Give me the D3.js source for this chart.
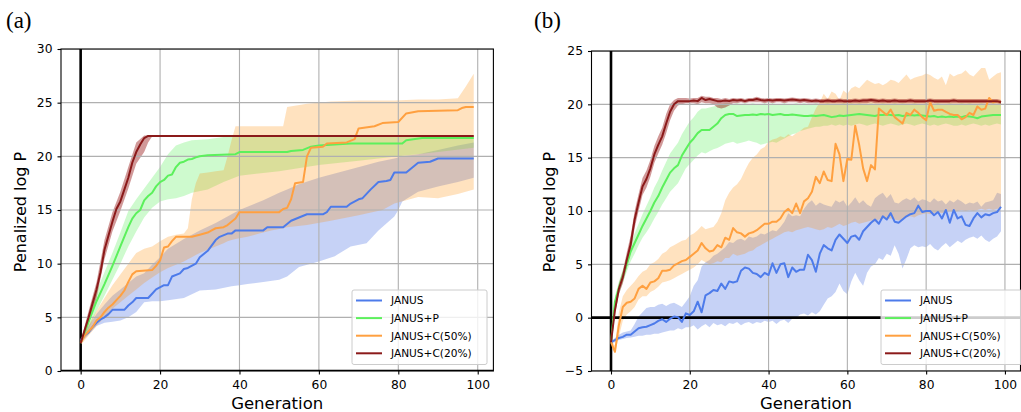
<!DOCTYPE html>
<html>
<head>
<meta charset="utf-8">
<script src="https://cdn.jsdelivr.net/npm/d3@7"></script>
<style>
    body { margin: 0; background: #fff; }
    svg { display: block; }
    text { font-family: "DejaVu Sans", sans-serif; }
</style>
</head>
<body>
<div id="chart"></div>
<script>
// ---- data: panel (a), step-like best-so-far curves, [generation, value] ----
const aJanus = [[0,2.9],[1,3.3],[2,3.6],[3,4.1],[4,4.5],[5,4.8],[6,5.0],[7,5.3],[8,5.7],[11,5.7],[12,6.1],[13,6.4],[14,6.8],[17,6.8],[18,7.2],[19,7.6],[21,8.0],[22,8.0],[23,8.8],[25,9.1],[26,9.5],[27,9.6],[29,10.0],[30,10.6],[32,11.2],[34,12.2],[35,12.5],[37,12.8],[38,12.8],[39,13.1],[46,13.1],[47,13.4],[51,13.4],[53,14.0],[55,14.3],[57,14.6],[61,14.6],[62,14.8],[63,15.3],[67,15.3],[68,15.6],[70,16.0],[71,16.1],[73,16.9],[75,17.6],[77,17.7],[78,17.8],[79,18.5],[82,18.5],[83,18.8],[85,19.4],[88,19.5],[90,19.8],[99,19.8]];
const aP = [[0,2.6],[2,4.6],[4,6.5],[6,8.1],[8,9.8],[10,11.6],[12,13.4],[13,14.2],[14,14.7],[15,15.0],[16,15.9],[17,16.3],[18,16.6],[19,17.2],[20,17.6],[21,17.8],[22,18.2],[23,18.3],[24,19.0],[25,19.4],[26,19.5],[27,19.7],[28,19.75],[29,19.9],[30,20.0],[32,20.1],[39,20.2],[40,20.4],[52,20.4],[53,20.5],[56,20.6],[58,20.9],[60,21.0],[68,21.2],[81,21.2],[82,21.5],[86,21.7],[99,21.7]];
const aC50 = [[0,2.6],[1,3.3],[2,3.7],[3,4.1],[4,4.7],[5,5.0],[6,5.5],[7,5.9],[8,6.2],[9,6.6],[10,7.0],[11,7.5],[12,8.3],[13,9.0],[14,9.3],[18,9.4],[19,9.8],[20,10.3],[21,11.5],[22,11.6],[23,12.1],[24,12.5],[28,12.5],[30,12.7],[32,12.9],[33,13.1],[34,13.3],[36,13.4],[37,13.6],[38,13.9],[39,14.2],[40,14.8],[50,14.8],[51,15.1],[52,15.2],[53,16.0],[54,17.5],[56,17.6],[57,20.0],[58,20.8],[61,20.9],[62,21.2],[67,21.3],[69,21.6],[70,22.6],[74,22.8],[76,23.1],[80,23.2],[82,24.0],[85,24.2],[95,24.3],[96,24.5],[97,24.6],[99,24.6]];
const aC20 = [[0,2.6],[1,3.8],[2,5.0],[3,6.3],[4,7.6],[5,9.2],[6,11.3],[7,12.6],[8,13.9],[9,15.1],[10,15.8],[11,16.9],[12,18.0],[13,19.4],[14,20.4],[15,21.1],[16,21.7],[17,21.9],[99,21.9]];

// bands: [generation, lower, upper]
const aJanusBand = [[0,2.6,3.1],[2,3.4,4.2],[4,4.2,5.3],[6,4.5,6.2],[8,4.6,7.0],[10,4.7,7.6],[12,5.0,8.2],[14,5.5,8.8],[16,6.4,9.1],[18,6.5,9.9],[20,6.5,10.6],[22,6.6,11.4],[26,6.8,12.3],[30,7.5,13.1],[34,7.6,13.8],[38,7.9,14.6],[40,8.0,15.0],[42,8.1,15.3],[46,8.3,15.9],[50,8.5,16.6],[52,8.8,16.9],[55,9.7,17.4],[60,10.2,18.0],[64,10.7,18.4],[68,11.6,18.8],[72,11.9,19.2],[75,13.1,19.5],[79,14.4,19.8],[80,15.0,19.9],[81,15.8,20.0],[85,16.7,20.2],[90,17.2,20.6],[95,17.6,21.0],[99,18.0,21.3]];
const aPBand = [[0,2.5,2.8],[2,3.9,5.3],[4,5.6,7.4],[6,7.0,9.2],[8,8.5,11.0],[10,10.0,12.9],[12,11.6,14.9],[14,13.0,16.0],[16,14.3,17.0],[18,15.2,18.0],[20,15.8,19.0],[22,16.0,20.2],[24,16.1,21.0],[26,16.3,21.3],[28,16.6,21.5],[32,16.9,21.6],[36,17.6,21.8],[40,18.2,21.8],[50,18.6,21.8],[60,19.2,21.8],[70,19.6,21.8],[80,20.0,21.9],[90,20.4,21.9],[99,20.8,21.9]];
const aC50Band = [[0,2.4,2.8],[2,3.3,4.3],[4,4.2,5.6],[6,5.0,6.8],[8,5.8,8.0],[10,6.4,9.0],[12,7.0,10.0],[14,7.6,11.0],[16,8.2,11.4],[18,8.7,11.6],[20,9.2,12.1],[22,9.6,12.5],[24,9.9,12.7],[26,10.2,12.8],[27,10.4,13.3],[28,10.6,16.0],[29,10.8,17.5],[30,11.0,18.4],[32,11.3,18.5],[34,11.6,18.6],[36,11.9,18.7],[37,12.1,20.0],[38,12.2,21.5],[39,12.3,22.8],[42,12.5,22.8],[45,12.8,22.8],[48,13.1,22.8],[51,13.3,22.8],[52,13.4,24.6],[57,13.6,24.9],[63,14.0,25.1],[70,14.5,25.2],[76,15.0,25.2],[79,15.6,25.2],[85,16.2,25.3],[90,16.1,25.3],[95,16.5,25.4],[97,16.7,26.5],[99,16.9,27.7]];
const aC20Band = [[0,2.4,2.8],[2,4.4,5.6],[4,6.8,8.3],[6,10.4,12.2],[8,13.0,14.8],[10,14.9,16.7],[12,17.0,19.0],[14,19.3,21.3],[16,20.4,21.95],[17,21.3,21.95],[18,21.85,21.95],[99,21.85,21.95]];

// ---- data: panel (b), one value per generation 0..99 ----
const bJanus = [-2.3,-2.1,-1.9,-1.8,-1.6,-1.6,-1.3,-1.0,-0.9,-0.85,
  -0.7,-0.55,-0.3,-0.15,-0.4,-0.1,0.1,0.05,-0.4,0.4,
  0.25,0.6,1.5,0.5,2.1,2.3,2.6,2.5,3.2,2.7,
  3.4,3.3,3.4,4.4,4.7,4.6,4.2,4.1,3.8,4.2,
  4.0,5.1,4.2,5.0,5.1,3.8,4.7,4.3,4.5,4.5,
  5.9,5.4,4.3,6.0,6.8,6.5,6.3,7.3,7.8,7.4,
  7.0,7.6,7.7,7.3,8.1,8.5,8.9,9.2,8.8,9.5,
  9.2,9.8,9.0,8.9,9.2,9.5,9.7,9.8,10.5,9.9,
  10.0,10.0,9.6,9.9,9.3,10.1,8.9,10.1,9.3,9.5,
  8.7,8.6,9.3,9.8,9.4,9.7,9.6,9.8,9.9,10.4];
const bJanusLo = [-2.4,-2.3,-2.1,-2.0,-1.9,-1.85,-1.8,-1.7,-1.7,-1.6,
  -1.6,-1.5,-1.5,-1.4,-1.3,-1.2,-1.2,-1.0,-1.1,-0.9,
  -0.9,-0.7,-1.1,-0.8,-0.6,-0.9,-0.5,-0.7,-0.6,-0.8,
  -0.5,-0.6,-0.4,-0.7,-0.5,-0.4,-0.6,-0.4,-0.5,-0.3,
  -0.4,-0.3,-0.6,-0.3,-0.2,-0.5,-0.1,0.0,0.3,0.4,
  0.2,0.5,0.3,0.6,1.2,1.8,2.0,2.4,3.2,2.5,
  2.2,3.4,4.2,3.5,3.0,4.2,4.8,5.0,5.6,5.4,
  6.0,5.8,6.8,6.0,4.6,5.5,6.5,6.8,6.6,6.7,
  6.6,6.9,6.5,6.3,6.7,7.0,6.6,6.9,7.2,7.0,
  7.3,7.5,7.6,7.4,7.7,7.3,7.1,7.4,7.6,8.1];
const bJanusHi = [-2.2,-1.9,-1.6,-1.4,-1.3,-1.2,-0.6,0.1,0.5,0.9,
  1.0,1.0,1.2,1.3,1.1,1.3,1.4,1.2,1.0,1.5,
  2.0,3.0,3.5,4.8,5.2,5.4,5.8,6.0,6.3,6.6,
  7.1,7.0,7.3,7.4,7.2,7.6,7.5,7.6,7.9,7.8,
  8.0,8.2,8.1,8.5,9.0,9.8,9.5,9.6,9.5,10.2,
  10.7,11.0,10.5,10.8,10.6,10.5,10.4,11.0,10.8,11.0,
  10.4,10.8,11.3,10.7,11.0,10.6,10.4,11.2,11.5,11.7,
  11.2,11.6,10.8,10.7,11.0,11.2,11.0,11.3,10.9,11.1,
  11.0,10.8,11.2,10.9,11.0,10.6,11.0,10.8,11.1,10.9,
  10.6,10.8,10.7,10.9,10.4,10.8,10.9,11.0,11.7,11.6];

const bP = [-2.3,1.5,2.8,3.9,5.0,6.2,7.0,7.8,8.6,9.3,
  10.0,10.8,11.4,12.2,12.9,13.6,14.0,14.3,15.2,15.8,
  16.4,16.8,17.3,17.6,17.6,17.6,17.9,18.2,18.7,19.0,
  19.1,19.1,18.9,18.95,19.0,19.0,19.05,19.0,19.1,19.05,
  19.1,19.0,19.05,19.1,19.0,19.0,19.05,19.0,18.95,18.9,
  18.9,18.95,18.9,18.95,19.0,18.9,18.8,18.85,18.95,18.9,
  18.95,19.0,19.05,19.1,19.05,19.0,18.95,18.9,19.0,19.0,
  19.05,19.0,18.95,19.0,18.9,18.95,19.0,18.95,19.0,18.95,
  18.9,18.85,18.9,18.8,18.85,18.8,18.85,18.8,18.85,18.8,
  18.9,18.85,18.8,18.7,18.85,18.9,18.95,19.0,19.0,19.0];
const bPLo = [-2.4,1.0,2.2,3.3,4.3,5.3,6.0,6.8,7.5,8.0,
  8.6,9.3,9.9,10.6,11.2,11.8,12.2,12.6,13.3,14.0,
  14.4,14.8,15.2,15.5,15.4,15.6,15.8,15.9,16.1,16.3,
  16.4,16.5,16.3,16.4,16.5,16.6,16.5,16.4,16.2,16.3,
  16.4,16.5,16.4,16.6,16.8,17.0,17.2,17.3,17.5,17.6,
  17.7,17.8,17.9,17.9,18.0,18.0,18.1,18.0,18.1,18.0,
  18.1,18.0,18.1,18.2,18.1,18.0,18.1,18.2,18.1,18.0,
  18.1,18.2,18.1,18.0,18.1,18.2,18.1,18.0,18.1,18.2,
  18.1,18.0,18.1,18.0,18.1,18.2,18.1,18.0,18.0,18.1,
  18.0,18.1,18.2,18.1,18.0,18.1,18.0,18.1,18.2,18.1];
const bPHi = [-2.2,2.0,3.4,4.5,5.7,7.0,7.9,8.8,9.7,10.5,
  11.3,12.2,12.9,13.8,14.6,15.4,15.9,16.4,17.2,17.8,
  18.4,18.8,19.3,19.6,19.6,19.7,19.8,19.9,20.0,20.1,
  20.1,20.0,20.1,20.0,20.1,20.0,20.1,20.0,20.0,20.1,
  20.0,20.1,20.0,20.0,20.1,20.0,20.0,20.1,20.0,20.1,
  20.0,20.0,20.1,20.0,20.0,20.1,20.0,20.0,20.0,20.1,
  20.0,20.1,20.0,20.1,20.0,20.0,20.1,20.0,20.0,20.1,
  20.0,20.0,20.1,20.0,20.1,20.0,20.0,20.1,20.0,20.0,
  20.1,20.0,20.0,20.1,20.0,20.0,20.1,20.0,20.0,20.1,
  20.0,20.1,20.0,20.0,20.1,20.0,20.0,20.1,20.0,20.1];

const bC50 = [-2.3,-3.2,-0.7,1.0,1.4,1.5,1.8,2.7,3.0,2.7,
  3.3,3.4,3.7,4.4,4.4,4.5,4.9,5.1,5.3,5.4,
  5.7,6.0,6.3,7.0,6.5,6.2,6.3,6.8,6.6,7.5,
  7.3,8.4,8.0,7.9,7.6,7.9,8.0,8.2,8.5,8.8,
  8.8,9.0,9.0,9.3,9.9,10.2,9.8,10.7,9.8,10.9,
  11.2,11.8,13.2,12.6,13.7,12.9,12.8,16.3,15.3,12.8,
  14.9,14.8,18.0,16.2,14.0,12.8,14.3,13.9,19.6,19.3,
  19.0,19.5,18.8,18.5,18.2,19.2,19.0,19.5,19.2,18.8,
  18.5,20.2,19.4,19.5,19.5,19.3,19.1,19.0,19.0,18.6,
  18.8,19.2,19.0,19.8,19.5,19.6,20.6,20.2,20.3,20.2];
const bC50Lo = [-2.5,-3.3,-1.8,-0.3,0.3,0.6,1.0,1.7,2.0,2.0,
  2.4,2.6,2.9,3.3,3.4,3.5,3.7,3.9,4.1,4.3,
  4.5,4.7,5.0,5.4,5.2,5.0,5.1,5.3,5.2,5.6,
  5.6,6.0,5.8,5.9,6.0,6.2,6.3,6.6,6.8,7.0,
  7.2,7.4,7.6,7.8,8.0,8.1,8.0,8.2,8.3,8.4,
  8.5,8.4,8.3,8.2,8.3,8.5,8.4,8.6,8.8,8.6,
  8.7,8.9,9.0,8.8,8.9,9.0,9.1,9.0,9.2,9.3,
  9.2,9.3,9.2,9.1,9.2,9.4,9.5,9.4,9.6,9.7,
  9.8,9.7,9.8,9.9,9.8,9.9,10.0,9.9,10.0,10.1,
  10.0,10.1,10.0,10.1,10.2,10.1,10.2,10.1,10.2,10.2];
const bC50Hi = [-2.1,-2.6,0.5,2.0,2.6,3.0,3.4,3.9,4.3,4.5,
  5.0,5.2,5.5,6.0,6.2,6.6,6.8,7.0,7.2,7.3,
  7.7,7.9,8.2,8.6,8.3,8.4,8.5,9.0,9.8,11.0,
  11.7,12.2,12.5,13.0,13.8,14.5,15.0,15.3,15.8,16.0,
  16.5,16.7,16.8,17.0,16.9,17.2,17.0,17.3,17.5,17.8,
  17.9,18.8,19.6,20.2,21.0,20.5,21.2,21.0,20.4,21.3,
  21.0,21.5,21.7,21.5,21.9,22.3,22.1,21.9,22.0,21.8,
  22.0,22.3,22.2,22.0,22.4,22.8,22.3,22.5,22.6,22.7,
  22.9,22.75,22.5,22.3,22.6,21.8,22.9,22.6,22.8,22.9,
  23.2,22.8,22.6,23.0,23.4,23.4,22.3,22.6,22.9,23.0];

const bC20 = [-2.3,0.7,2.7,3.8,5.4,6.9,9.2,10.8,12.3,13.0,
  14.0,15.3,16.2,17.0,18.2,19.3,20.0,20.3,20.3,20.3,
  20.3,20.35,20.3,20.6,20.4,20.5,20.4,20.3,20.3,20.35,
  20.3,20.4,20.35,20.4,20.3,20.4,20.4,20.5,20.4,20.35,
  20.4,20.35,20.4,20.4,20.35,20.4,20.45,20.4,20.35,20.4,
  20.35,20.3,20.35,20.3,20.3,20.35,20.3,20.3,20.35,20.3,
  20.3,20.3,20.35,20.3,20.35,20.35,20.4,20.35,20.3,20.35,
  20.3,20.3,20.35,20.3,20.3,20.3,20.35,20.3,20.3,20.3,
  20.3,20.35,20.3,20.3,20.3,20.3,20.3,20.35,20.3,20.3,
  20.3,20.3,20.3,20.3,20.3,20.3,20.3,20.3,20.3,20.2];
const bC20Lo = [-2.5,0.3,2.2,3.2,4.7,6.1,8.4,10.0,11.5,12.2,
  13.2,14.5,15.4,16.2,17.3,18.5,19.4,19.9,20.0,20.1,
  20.1,20.1,20.0,20.2,20.1,20.1,20.0,19.7,19.6,19.7,
  19.9,20.1,20.1,20.2,20.1,20.2,20.2,20.2,20.2,20.1,
  20.2,20.1,20.2,20.2,20.1,20.2,20.2,20.2,20.1,20.2,
  20.1,20.1,20.1,20.1,20.1,20.1,20.1,20.1,20.1,20.1,
  20.1,20.1,20.1,20.1,20.1,20.1,20.2,20.1,20.1,20.1,
  20.1,20.1,20.1,20.1,20.1,20.1,20.1,20.1,20.1,20.1,
  20.1,20.1,20.1,20.1,20.1,20.1,20.1,20.1,20.1,20.1,
  20.1,20.1,20.1,20.1,20.1,20.1,20.1,20.1,20.1,20.0];
const bC20Hi = [-2.1,1.1,3.2,4.4,6.1,7.7,10.0,11.6,13.1,13.8,
  14.8,16.1,17.0,17.8,19.1,20.0,20.4,20.6,20.6,20.6,
  20.55,20.6,20.6,20.8,20.7,20.7,20.6,20.6,20.5,20.6,
  20.5,20.6,20.55,20.6,20.5,20.6,20.6,20.7,20.6,20.55,
  20.6,20.55,20.6,20.6,20.55,20.6,20.65,20.6,20.55,20.6,
  20.55,20.5,20.55,20.5,20.5,20.55,20.5,20.5,20.55,20.5,
  20.5,20.5,20.55,20.5,20.55,20.55,20.6,20.55,20.5,20.55,
  20.5,20.5,20.55,20.5,20.5,20.5,20.55,20.5,20.5,20.5,
  20.5,20.55,20.5,20.5,20.5,20.5,20.5,20.55,20.5,20.5,
  20.5,20.5,20.5,20.5,20.5,20.5,20.5,20.5,20.5,20.4];

const generations = d3.range(100);
const seriesNames = ['JANUS', 'JANUS+P', 'JANUS+C(50%)', 'JANUS+C(20%)'];
const xTicks = [0, 20, 40, 60, 80, 100];
const aYTicks = [0, 5, 10, 15, 20, 25, 30];
const bYTicks = [-5, 0, 5, 10, 15, 20, 25];

const lineColors = ['#4d7bea', '#5cf05c', '#ffa040', '#8b1a1a'];
const fillColors = ['#4169e1', '#5cf05c', '#ff8c00', '#8b0000'];
const fillAlpha = [0.3, 0.3, 0.25, 0.4];

// pair per-generation arrays with their generation
const perGen = vals => generations.map(g => [g, vals[g]]);
const perGenBand = (lo, hi) => generations.map(g => [g, lo[g], hi[g]]);

const svg = d3.select('#chart')
    .append('svg')
    .attr('width', 1021)
    .attr('height', 412);

function drawPanel(cfg) {
    const x = d3.scaleLinear().domain([-4.95, 103.95]).range([cfg.left, cfg.right]);
    const y = d3.scaleLinear().domain(cfg.yDomain).range([cfg.bottom, cfg.top]);
    const g = svg.append('g');

    // clip everything data-ish to the axes box
    svg.append('clipPath').attr('id', 'clip-' + cfg.id)
        .append('rect')
        .attr('x', cfg.left).attr('y', cfg.top)
        .attr('width', cfg.right - cfg.left).attr('height', cfg.bottom - cfg.top);
    const plot = g.append('g').attr('clip-path', `url(#clip-${cfg.id})`);

    // shaded bands
    const area = d3.area().x(d => x(d[0])).y0(d => y(d[1])).y1(d => y(d[2]));
    cfg.bands.forEach((band, i) => {
        plot.append('path').datum(band)
            .attr('d', area)
            .attr('fill', fillColors[i])
            .attr('fill-opacity', fillAlpha[i]);
    });

    // grid sits above the fills, below the lines
    plot.selectAll('.vgrid').data(xTicks).enter().append('line')
        .attr('x1', d => x(d)).attr('x2', d => x(d))
        .attr('y1', cfg.top).attr('y2', cfg.bottom)
        .attr('stroke', '#b0b0b0').attr('stroke-width', 1.1);
    plot.selectAll('.hgrid').data(cfg.yTicks).enter().append('line')
        .attr('x1', cfg.left).attr('x2', cfg.right)
        .attr('y1', d => y(d)).attr('y2', d => y(d))
        .attr('stroke', '#b0b0b0').attr('stroke-width', 1.1);

    // thick zero lines
    plot.append('line')
        .attr('x1', x(0)).attr('x2', x(0)).attr('y1', cfg.top).attr('y2', cfg.bottom)
        .attr('stroke', '#000').attr('stroke-width', 2.6);
    plot.append('line')
        .attr('x1', cfg.left).attr('x2', cfg.right).attr('y1', y(0)).attr('y2', y(0))
        .attr('stroke', '#000').attr('stroke-width', 2.6);

    // mean curves
    const line = d3.line().x(d => x(d[0])).y(d => y(d[1]));
    cfg.means.forEach((m, i) => {
        plot.append('path').datum(m)
            .attr('d', line)
            .attr('fill', 'none')
            .attr('stroke', lineColors[i])
            .attr('stroke-width', 2)
            .attr('stroke-linejoin', 'round');
    });

    // axes
    const xAxis = g.append('g')
        .attr('transform', `translate(0,${cfg.bottom})`)
        .call(d3.axisBottom(x).tickValues(xTicks).tickSize(3.5).tickPadding(5.5));
    const yAxis = g.append('g')
        .attr('transform', `translate(${cfg.left},0)`)
        .call(d3.axisLeft(y).tickValues(cfg.yTicks).tickSize(3.5).tickPadding(5));
    [xAxis, yAxis].forEach(a => {
        a.select('.domain').remove();
        a.attr('font-family', null).attr('font-size', null);
        a.selectAll('text').attr('font-size', '12.3px').attr('fill', '#000');
        a.selectAll('line').attr('stroke', '#000').attr('stroke-width', 1.1);
    });

    // spines
    g.append('rect')
        .attr('x', cfg.left).attr('y', cfg.top)
        .attr('width', cfg.right - cfg.left).attr('height', cfg.bottom - cfg.top)
        .attr('fill', 'none').attr('stroke', '#000').attr('stroke-width', 1.1);

    // axis labels
    g.append('text')
        .attr('x', (cfg.left + cfg.right) / 2).attr('y', 409)
        .attr('text-anchor', 'middle').attr('font-size', '16.5px')
        .text('Generation');
    g.append('text')
        .attr('transform', `translate(${cfg.ylabelX},212) rotate(-90)`)
        .attr('text-anchor', 'middle').attr('font-size', '16px')
        .text('Penalized log P');

    // panel letter
    g.append('text')
        .attr('x', cfg.letterX).attr('y', 28)
        .style('font-family', '"Liberation Serif", serif')
        .attr('font-size', '23px')
        .text(cfg.letter);

    // legend
    const lg = g.append('g').attr('transform', `translate(${cfg.legendX},290)`);
    lg.append('rect')
        .attr('width', cfg.legendW).attr('height', 74.5).attr('rx', 2)
        .attr('fill', '#fff').attr('fill-opacity', 0.8)
        .attr('stroke', '#cccccc').attr('stroke-width', 1);
    seriesNames.forEach((name, i) => {
        const ry = 10.5 + i * 17.6;
        lg.append('line')
            .attr('x1', 4).attr('x2', 30).attr('y1', ry).attr('y2', ry)
            .attr('stroke', lineColors[i]).attr('stroke-width', 2);
        lg.append('text')
            .attr('x', 39).attr('y', ry).attr('dy', '0.36em')
            .attr('font-size', '10.6px')
            .text(name);
    });
}

drawPanel({
    id: 'a', letter: '(a)', letterX: 6,
    left: 61, right: 493.4, top: 49, bottom: 371,
    yDomain: [0, 30], yTicks: aYTicks, ylabelX: 26,
    means: [aJanus, aP, aC50, aC20],
    bands: [aJanusBand, aPBand, aC50Band, aC20Band],
    legendX: 352, legendW: 135
});

drawPanel({
    id: 'b', letter: '(b)', letterX: 534,
    left: 591.5, right: 1020.5, top: 51, bottom: 371,
    yDomain: [-5, 25], yTicks: bYTicks, ylabelX: 555,
    means: [perGen(bJanus), perGen(bP), perGen(bC50), perGen(bC20)],
    bands: [perGenBand(bJanusLo, bJanusHi), perGenBand(bPLo, bPHi),
            perGenBand(bC50Lo, bC50Hi), perGenBand(bC20Lo, bC20Hi)],
    legendX: 881, legendW: 141
});
</script>
</body>
</html>
